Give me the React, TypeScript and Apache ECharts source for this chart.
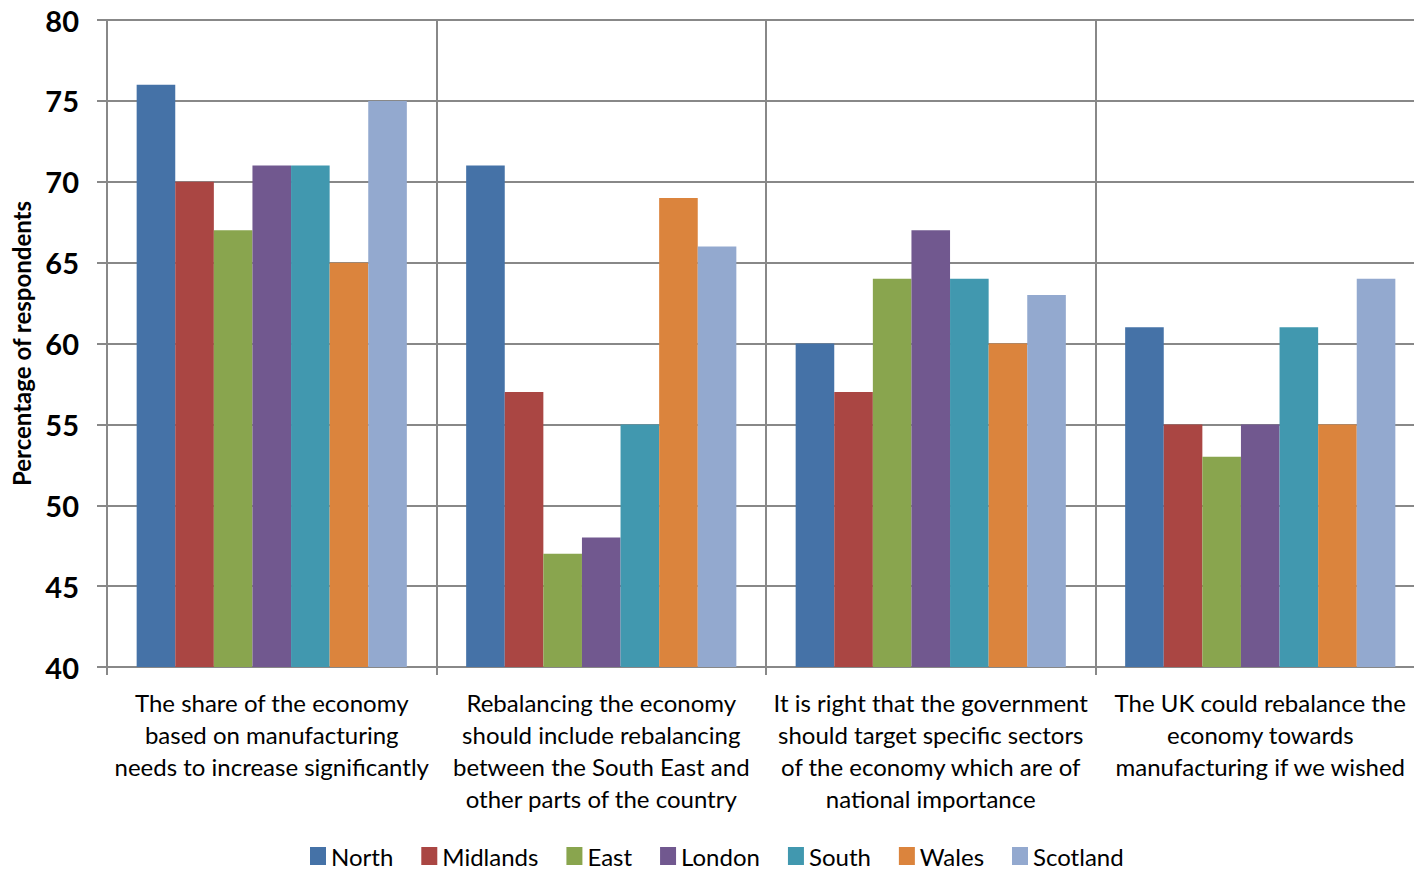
import React, { useEffect, useRef } from "react";
import * as echarts from "echarts";

const categories = [
  "The share of the economy\nbased on manufacturing\nneeds to increase significantly",
  "Rebalancing the economy\nshould include rebalancing\nbetween the South East and\nother parts of the country",
  "It is right that the government\nshould target specific sectors\nof the economy which are of\nnational importance",
  "The UK could rebalance the\neconomy towards\nmanufacturing if we wished",
];

const regions = ["North", "Midlands", "East", "London", "South", "Wales", "Scotland"];
const colors = ["#4572A7", "#AA4643", "#89A54E", "#71588F", "#4198AF", "#DB843D", "#93A9CF"];

const north = [76, 71, 60, 61];
const midlands = [70, 57, 57, 55];
const east = [67, 47, 64, 53];
const london = [71, 48, 67, 55];
const south = [71, 55, 64, 61];
const wales = [65, 69, 60, 55];
const scotland = [75, 66, 63, 64];

const seriesValues = [north, midlands, east, london, south, wales, scotland];

const yTicks = { min: 40, max: 80, interval: 5 };

const FONT = "Lato, 'Open Sans', sans-serif";

// The plot runs slightly past the right edge of the visible page.
const CANVAS_W = 1425;
const CANVAS_H = 870;

export default function App() {
  const ref = useRef<HTMLDivElement>(null);

  useEffect(() => {
    if (!ref.current) return;
    const chart = echarts.init(ref.current, undefined, { renderer: "svg" });
    chart.setOption({
      animation: false,
      backgroundColor: "#ffffff",
      textStyle: { fontFamily: FONT },
      grid: { left: 107, top: 20, right: 0, height: 647, containLabel: false },
      legend: {
        top: 843,
        left: 310,
        padding: 0,
        itemWidth: 16,
        itemHeight: 18,
        itemGap: 28,
        icon: "rect",
        textStyle: { fontSize: 24, lineHeight: 26, color: "#000", fontFamily: FONT },
        data: regions,
      },
      xAxis: {
        type: "category",
        data: categories,
        axisLine: { show: true, lineStyle: { color: "#888", width: 2 } },
        axisTick: { show: true, length: 8, lineStyle: { color: "#888", width: 2 } },
        splitLine: { show: true, lineStyle: { color: "#888", width: 2 } },
        axisLabel: {
          fontSize: 24,
          color: "#000",
          lineHeight: 32,
          margin: 19,
          interval: 0,
          fontFamily: FONT,
        },
      },
      yAxis: {
        type: "value",
        min: yTicks.min,
        max: yTicks.max,
        interval: yTicks.interval,
        name: "Percentage of respondents",
        nameLocation: "middle",
        nameGap: 74,
        nameTextStyle: { fontSize: 24, fontWeight: "bold", color: "#000", fontFamily: FONT },
        axisLine: { show: true, lineStyle: { color: "#888", width: 2 } },
        axisTick: { show: true, length: 10, lineStyle: { color: "#888", width: 2 } },
        splitLine: { show: true, lineStyle: { color: "#888", width: 2 } },
        axisLabel: { fontSize: 29, fontWeight: "bold", color: "#000", margin: 28, fontFamily: FONT },
      },
      series: regions.map((name, i) => ({
        name,
        type: "bar",
        data: seriesValues[i],
        barGap: "0%",
        barCategoryGap: "18%",
        itemStyle: { color: colors[i] },
      })),
    });
    return () => chart.dispose();
  }, []);

  return (
    <div style={{ position: "fixed", left: 0, top: 0, width: 1414, height: CANVAS_H, overflow: "hidden", background: "#fff" }}>
      <div ref={ref} style={{ width: CANVAS_W, height: CANVAS_H }} />
    </div>
  );
}
